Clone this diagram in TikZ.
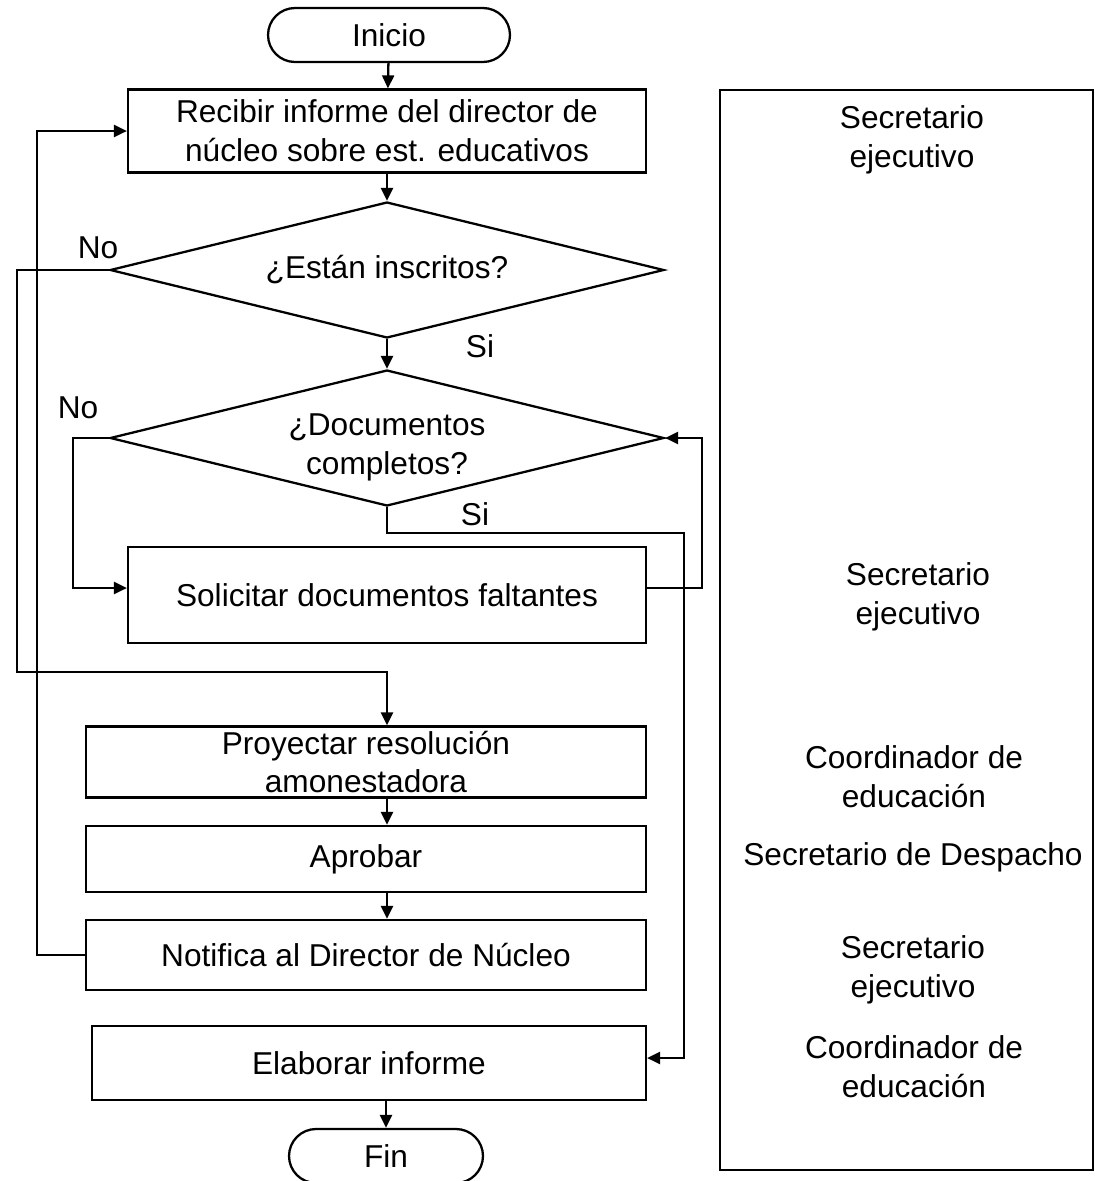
\documentclass[tikz,border=0pt]{standalone}
\usepackage{fontspec}
\setmainfont{Liberation Sans}
\usetikzlibrary{shapes.geometric,arrows.meta}
\begin{document}
\begin{tikzpicture}[x=0.02cm, y=-0.02cm, line width=1.3pt, font=\fontsize{18pt}{22pt}\selectfont,
		box/.style={draw, rectangle, align=center, inner sep=0pt, minimum width=#1},
		term/.style={draw, rectangle, rounded corners=0.54cm, minimum height=1.08cm, inner sep=0pt},
		decision/.style={draw, diamond, aspect=4.08, align=center, inner sep=0pt, minimum width=11.08cm, minimum height=2.72cm},
		arr/.style={-{Triangle[length=0.26cm, width=0.24cm]}},
		txt/.style={align=center, inner sep=0pt}]
		\useasboundingbox (0,0) rectangle (1095,1181);
		\node[term, minimum width=4.84cm] (ini) at (389,35) {Inicio};
		\node[box=10.36cm, minimum height=1.66cm] (rec) at (387,131) {Recibir informe del director de\\núcleo sobre est. educativos};
		\node[decision] (ins) at (387,270) {¿Están inscritos?};
		\node[decision] (doc) at (387,438) {\raisebox{-0.18cm}[\height][\depth]{\begin{tabular}{@{}c@{}}¿Documentos\\completos?\end{tabular}}};
		\node[box=10.36cm, minimum height=1.92cm] (sol) at (387,595) {Solicitar documentos faltantes};
		\node[box=11.2cm, minimum height=1.42cm] (pro) at (366,762) {Proyectar resolución\\amonestadora};
		\node[box=11.2cm, minimum height=1.32cm] (apr) at (366,859) {Aprobar};
		\node[box=11.2cm, minimum height=1.4cm] (not) at (366,955) {Notifica al Director de Núcleo};
		\node[box=11.08cm, minimum height=1.48cm] (ela) at (369,1063) {Elaborar informe};
		\node[term, minimum width=3.88cm] (fin) at (386,1156) {Fin};
		% responsables
		\node[draw, rectangle, minimum width=7.46cm, minimum height=21.6cm, inner sep=0pt] (lane) at (906.5,630) {};
		\node[txt] (r1) at (912,140) {Secretario\\ejecutivo};
		\node[txt] (r2) at (918,597) {Secretario\\ejecutivo};
		\node[txt] (r3) at (914,777) {Coordinador de\\educación};
		\node[txt] (r4) at (913,857) {Secretario de Despacho};
		\node[txt] (r5) at (913,970) {Secretario\\ejecutivo};
		\node[txt] (r6) at (914,1067) {Coordinador de\\educación};
		\coordinate (c1) at (17,672);
		\coordinate (c2) at (73,588);
		\coordinate (c3) at (702,588);
		\coordinate (c4) at (684,533);
		\coordinate (c5) at (37,955);
		\draw[arr] (ini) -- (rec);
		\draw[arr] (rec) -- (ins);
		\draw[arr] (ins) -- (doc);
		\node (si1) at (480,346) {Si};
		\draw[arr] (ins.west) -| (c1) -| (ins.south |- pro.north);
		\node (no1) at (98,248) {No};
		\draw[arr] (doc.west) -| (c2) -- (c2 -| sol.west);
		\node (no2) at (78,408) {No};
		\draw[arr] (c2 -| sol.east) -- (c3) |- (doc.east);
		\draw[arr] (doc.south) |- (c4) |- ([yshift=0.1cm]ela.east);
		\node (si2) at (475,514) {Si};
		\draw[arr] (ins.south |- pro.south) -- (ins.south |- apr.north);
		\draw[arr] (ins.south |- apr.south) -- (ins.south |- not.north);
		\draw[arr] (not.west) -- (c5) |- (rec.west);
		\draw[arr] (fin.north |- ela.south) -- (fin);
	\end{tikzpicture}
\end{document}
